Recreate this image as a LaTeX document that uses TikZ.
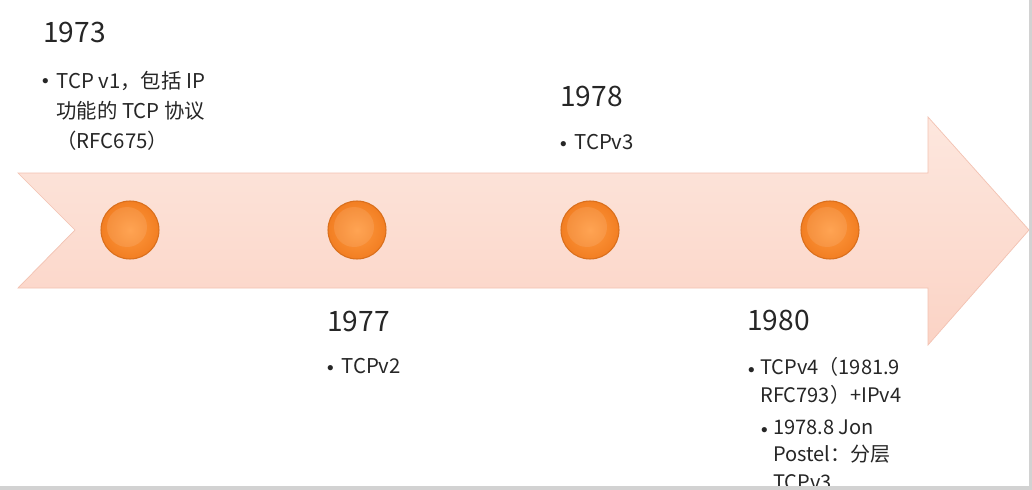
\documentclass[tikz,border=0pt]{standalone}
\usepackage{fontspec}
\setmainfont{Noto Sans CJK SC}
\usetikzlibrary{positioning}
\usepackage{xcolor}
\definecolor{bandtop}{HTML}{FDE7DE}
\definecolor{bandbot}{HTML}{FBD3C5}
\definecolor{bandedge}{HTML}{F3C2B2}
\definecolor{dotin}{HTML}{FF9A40}
\definecolor{dotout}{HTML}{F27E22}
\definecolor{dotedge}{HTML}{D96F1C}
\definecolor{ink}{HTML}{262626}
\definecolor{frame}{HTML}{D2D2D2}

\begin{document}
\begin{tikzpicture}[x=0.02cm,y=-0.02cm,
    yr/.style={anchor=base west,inner sep=0pt,text=ink,font=\fontsize{16}{19}\selectfont},
    item/.style={anchor=base west,inner sep=0pt,align=left,text=ink,font=\fontsize{11.6}{16.8}\selectfont},
    sub/.style={item,font=\fontsize{11.4}{15.4}\selectfont},
    bul/.style={anchor=base west,inner sep=0pt,text=ink,font=\fontsize{14}{15}\selectfont},
    dot/.style={circle,minimum size=1.16cm,inner sep=0pt,draw=dotedge,line width=0.6pt,inner color=dotin,outer color=dotout}]
  \useasboundingbox (0,0) rectangle (1032,490);
  \fill[white] (0,0) rectangle (1032,490);
  % band arrow
  \shade[top color=bandtop,bottom color=bandbot,draw=bandedge,line width=0.4pt]
    (18,173) -- (928,173) -- (928,117) -- (1029,230) -- (928,345) -- (928,288)
    -- (18,288) -- (75,230) -- cycle;
  % milestones
  \node[dot](d73) at (130,230){};
  \node[dot](d77) at (357,230){};
  \node[dot](d78) at (590,230){};
  \node[dot](d80) at (830,230){};
  \foreach \d in {d73,d77,d78,d80}
    \fill[white,opacity=0.1] (\d.center) ++(-3,-3) circle (20);
  % 1973 (multi-line nodes sit on their last baseline)
  \node[yr](y73) at (43,42){1973};
  \node[bul](b73) at (33,91){•};
  \node[item](t73) at (56,148){TCP v1，包括 IP\\功能的 TCP 协议\\（RFC675）};
  % 1977
  \node[yr](y77) at (327,331){1977};
  \node[bul](b77) at (318,377){•};
  \node[item](t77) at (341,373){TCPv2};
  % 1978
  \node[yr](y78) at (560,106){1978};
  \node[bul](b78) at (551,153){•};
  \node[item](t78) at (574,149){TCPv3};
  % 1980
  \node[yr](y80) at (747,330){1980};
  \node[bul](b80) at (739,379){•};
  \node[sub](t80) at (760,402){TCPv4（1981.9\\RFC793）+IPv4};
  \node[bul](s80) at (752,439){•};
  \node[sub](u80) at (773,489){1978.8 Jon\\Postel：分层\\TCPv3};
  % slide frame
  \fill[frame] (1029,0) rectangle (1032,490);
  \fill[frame] (0,486) rectangle (1032,490);
\end{tikzpicture}
\end{document}
